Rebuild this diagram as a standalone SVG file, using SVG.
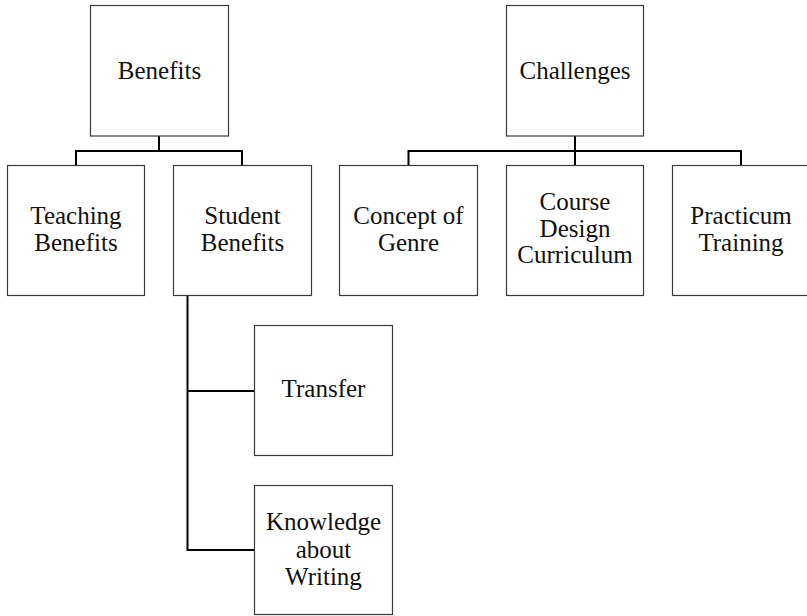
<svg xmlns="http://www.w3.org/2000/svg" width="807" height="616" viewBox="0 0 807 616">
<style>
.box{fill:#fff;stroke:#3a3a3a;stroke-width:1.2}
.t{font-family:"Liberation Serif","Times New Roman",serif;font-size:25px;fill:#111;text-anchor:middle}
.c{fill:none;stroke:#000;stroke-width:2}
</style>
<rect width="807" height="616" fill="#fff"/>
<g id="connectors">
<path class="c" d="M159,136 V151 M76,165 V151 H242 V165"/>
<path class="c" d="M575,136 V165 M408.5,165 V151 H741 V165"/>
<path class="c" d="M187.5,295 V550 H254 M187.5,391 H254"/>
</g>
<g id="benefits"><rect class="box" x="90.5" y="5.5" width="138" height="130.5"/><text class="t" x="159.5" y="79">Benefits</text></g>
<g id="teaching"><rect class="box" x="7.5" y="165.5" width="137" height="130"/><text class="t" x="76" y="224">Teaching</text><text class="t" x="76" y="251">Benefits</text></g>
<g id="student"><rect class="box" x="173.5" y="165.5" width="138" height="130"/><text class="t" x="242.5" y="224">Student</text><text class="t" x="242.5" y="251">Benefits</text></g>
<g id="transfer"><rect class="box" x="254.5" y="325.5" width="138" height="130"/><text class="t" x="323.5" y="397">Transfer</text></g>
<g id="knowledge"><rect class="box" x="254.5" y="485.5" width="138" height="129"/><text class="t" x="323.5" y="530">Knowledge</text><text class="t" x="323.5" y="557.5">about</text><text class="t" x="323.5" y="585">Writing</text></g>
<g id="challenges"><rect class="box" x="506.5" y="5.5" width="137" height="130.5"/><text class="t" x="575" y="79">Challenges</text></g>
<g id="concept"><rect class="box" x="339.5" y="165.5" width="138" height="130"/><text class="t" x="408.5" y="223.5">Concept of</text><text class="t" x="408.5" y="250.5">Genre</text></g>
<g id="course"><rect class="box" x="506.5" y="165.5" width="137" height="130"/><text class="t" x="575" y="210">Course</text><text class="t" x="575" y="236.5">Design</text><text class="t" x="575" y="263">Curriculum</text></g>
<g id="practicum"><rect class="box" x="672.5" y="165.5" width="138" height="130"/><text class="t" x="741" y="223.5">Practicum</text><text class="t" x="741" y="250.5">Training</text></g>
</svg>
